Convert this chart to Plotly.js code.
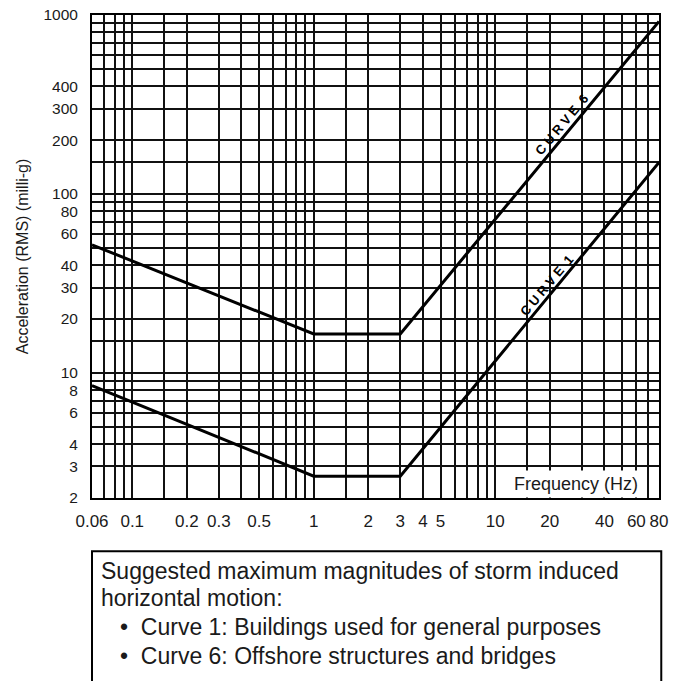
<!DOCTYPE html>
<html>
<head>
<meta charset="utf-8">
<script src="https://cdn.plot.ly/plotly-3.0.1.min.js"></script>
<style>html,body{margin:0;padding:0;background:#fff;}#chart{width:681px;height:681px;}</style>
</head>
<body>
<div id="chart"></div>
<script>
// Frequency (Hz) breakpoints of the two curves
const freq = [0.06, 1, 3, 80];
// Acceleration (RMS, milli-g)
const curve1 = [8.5, 2.65, 2.65, 150];
const curve6 = [52, 16.5, 16.5, 920];

// grid lines (log paper)
const gridX = [0.06,0.07,0.08,0.09,0.1,0.15,0.2,0.3,0.4,0.5,0.6,0.7,0.8,0.9,1,1.5,2,3,4,5,6,7,8,9,10,15,20,30,40,50,60,70,80];
const gridY = [2,3,4,5,6,7,8,9,10,15,20,30,40,50,60,70,80,90,100,150,200,300,400,500,600,700,800,900,1000];
// labelled ticks
const xLabelVals = [0.06,0.1,0.2,0.3,0.5,1,2,3,4,5,10,20,40,60,80];
const yLabelVals = [2,3,4,6,8,10,20,30,40,60,80,100,200,300,400,1000];

const xText = gridX.map(v => xLabelVals.includes(v) ? String(v) : '');
const yText = gridY.map(v => yLabelVals.includes(v) ? String(v) : '');

const FONT = 'Liberation Sans, Arial, Helvetica, sans-serif';

const traces = [
  {x: freq, y: curve6, mode: 'lines', line: {color: '#000', width: 3}, hoverinfo: 'skip', showlegend: false},
  {x: freq, y: curve1, mode: 'lines', line: {color: '#000', width: 3}, hoverinfo: 'skip', showlegend: false}
];

const layout = {
  width: 681, height: 681,
  margin: {l: 92, r: 22, t: 15, b: 183},
  paper_bgcolor: '#fff', plot_bgcolor: '#fff',
  font: {family: FONT, size: 17, color: '#1a1a1a'},
  showlegend: false,
  xaxis: {
    type: 'log', range: [Math.log10(0.06), Math.log10(80)],
    tickmode: 'array', tickvals: gridX, ticktext: xText,
    ticks: '', ticklabelstandoff: 7,
    showgrid: true, gridcolor: '#111', gridwidth: 2,
    showline: true, mirror: true, linecolor: '#000', linewidth: 2,
    zeroline: false, tickfont: {size: 17, color: '#1a1a1a'}
  },
  yaxis: {
    type: 'log', range: [Math.log10(2), 3],
    tickmode: 'array', tickvals: gridY, ticktext: yText,
    ticks: '', ticklabelstandoff: 9,
    showgrid: true, gridcolor: '#111', gridwidth: 2,
    showline: true, mirror: true, linecolor: '#000', linewidth: 2,
    zeroline: false, tickfont: {size: 15.5, color: '#1a1a1a'},
    title: {text: 'Acceleration (RMS) (milli-g)', font: {size: 16, color: '#1a1a1a'}, standoff: 11}
  },
  shapes: [
    {type: 'rect', xref: 'paper', yref: 'paper', x0: 0, x1: 1.004, y0: -0.40, y1: -0.11,
     line: {color: '#000', width: 2}, fillcolor: 'rgba(0,0,0,0)', layer: 'above'}
  ],
  annotations: [
    {xref: 'x', yref: 'y', x: Math.log10(23.4), y: Math.log10(243), text: '<b>C U R V E  6</b>',
     textangle: -50, showarrow: false, font: {size: 13, color: '#000'}},
    {xref: 'x', yref: 'y', x: Math.log10(19.3), y: Math.log10(30.6), text: '<b>C U R V E  1</b>',
     textangle: -50, showarrow: false, font: {size: 13, color: '#000'}},
    {xref: 'x', yref: 'y', x: Math.log10(27.9), y: Math.log10(2.4), text: 'Frequency (Hz)',
     showarrow: false, bgcolor: '#fff', borderpad: 3, font: {size: 18, color: '#1a1a1a'}},
    {xref: 'paper', yref: 'paper', x: 0.012, y: -0.1511, xanchor: 'left', yanchor: 'middle', showarrow: false,
     text: 'Suggested maximum magnitudes of storm induced', font: {size: 23, color: '#1a1a1a'}},
    {xref: 'paper', yref: 'paper', x: 0.012, y: -0.2070, xanchor: 'left', yanchor: 'middle', showarrow: false,
     text: 'horizontal motion:', font: {size: 23, color: '#1a1a1a'}},
    {xref: 'paper', yref: 'paper', x: 0.046, y: -0.2671, xanchor: 'left', yanchor: 'middle', showarrow: false,
     text: '•  Curve 1: Buildings used for general purposes', font: {size: 23, color: '#1a1a1a'}},
    {xref: 'paper', yref: 'paper', x: 0.046, y: -0.3271, xanchor: 'left', yanchor: 'middle', showarrow: false,
     text: '•  Curve 6: Offshore structures and bridges', font: {size: 23, color: '#1a1a1a'}}
  ]
};

Plotly.newPlot('chart', traces, layout, {staticPlot: true, displayModeBar: false});
</script>
</body>
</html>
